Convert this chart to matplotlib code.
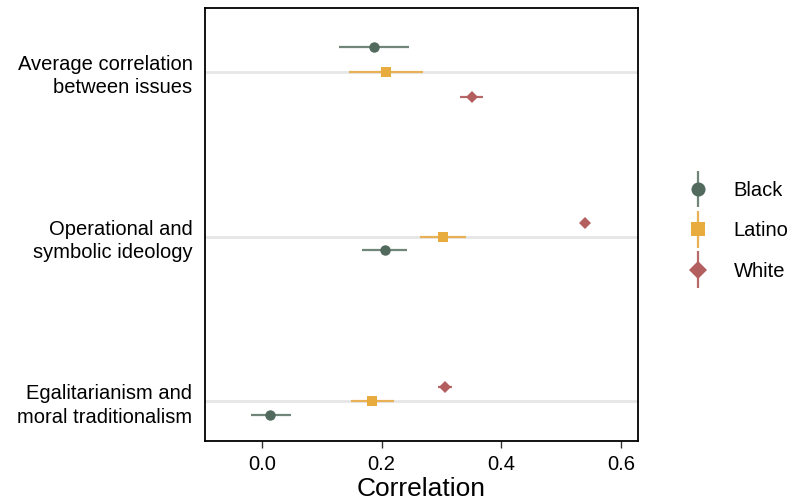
import numpy as np
import matplotlib.pyplot as plt
from matplotlib.legend_handler import HandlerErrorbar
from matplotlib.container import ErrorbarContainer

plt.rcParams["font.family"] = ["Liberation Sans", "DejaVu Sans"]

# measures, top to bottom
measures = ["Average correlation\nbetween issues",
            "Operational and\nsymbolic ideology",
            "Egalitarianism and\nmoral traditionalism"]
groups = ["Black", "Latino", "White"]

black_est = [0.188, 0.205, 0.014]
black_lo = [0.129, 0.167, -0.018]
black_hi = [0.246, 0.243, 0.048]

latino_est = [0.208, 0.302, 0.184]
latino_lo = [0.145, 0.264, 0.149]
latino_hi = [0.269, 0.340, 0.220]

white_est = [0.351, 0.540, 0.306]
white_lo = [0.331, 0.536, 0.294]
white_hi = [0.370, 0.544, 0.318]

colors = {"Black": "#516a5d", "Latino": "#e8ab3e", "White": "#b35f60"}
line_colors = {"Black": "#6f8679", "Latino": "#e9b155", "White": "#b86a6a"}
markers = {"Black": "o", "Latino": "s", "White": "D"}
msizes = {"Black": 7.5, "Latino": 7, "White": 6.5}

# vertical dodge per measure (group order differs between measures)
dodge = {
    "Black": [0.15, -0.085, -0.085],
    "Latino": [0.0, 0.0, 0.0],
    "White": [-0.15, 0.083, 0.083],
}

est = {"Black": black_est, "Latino": latino_est, "White": white_est}
lo = {"Black": black_lo, "Latino": latino_lo, "White": white_lo}
hi = {"Black": black_hi, "Latino": latino_hi, "White": white_hi}

fig = plt.figure(figsize=(7.92, 5.04), dpi=100)
ax = fig.add_axes([205 / 792, 1 - 441 / 504, 433 / 792, 433 / 504])

ypos = np.array([3, 2, 1])
for y in ypos:
    ax.axhline(y, color="#e6e6e6", linewidth=2, zorder=0)

for g in groups:
    e = np.array(est[g])
    yy = ypos + np.array(dodge[g])
    ax.hlines(yy, lo[g], hi[g], color=line_colors[g], linewidth=1.6, zorder=2)
    ax.plot(e, yy, linestyle="none", marker=markers[g], markersize=msizes[g],
            color=colors[g], markeredgewidth=0, zorder=3)

ax.set_xlim(-0.095, 0.628)
ax.set_ylim(0.757, 3.389)
ax.set_xticks([0.0, 0.2, 0.4, 0.6])
ax.set_xticklabels(["0.0", "0.2", "0.4", "0.6"])
ax.set_yticks(ypos)
ax.set_yticklabels(measures, fontsize=14.5, ha="right")
ax.tick_params(axis="x", labelsize=14.5, length=5, width=1, color="#333333", pad=5)
ax.tick_params(axis="y", length=0, pad=9)
for t in ax.get_yticklabels():
    t.set_multialignment("right")
    t.set_linespacing(1.3)
for s in ax.spines.values():
    s.set_linewidth(1.3)
    s.set_color("black")
ax.set_xlabel("Correlation", fontsize=19, labelpad=2)

# legend with vertical error bars
handles = []
for g in groups:
    h = ax.errorbar([np.nan], [np.nan], yerr=[1], color=line_colors[g],
                    marker=markers[g], markersize=msizes[g] * 1.35,
                    markerfacecolor=colors[g], markeredgewidth=0,
                    linestyle="none", elinewidth=1.6, label=g)
    handles.append(h)
fig.legend(handles=handles, labels=groups, loc="center left",
           bbox_to_anchor=(668 / 792, 1 - 231 / 504), frameon=False,
           fontsize=14.5, handlelength=1.2, handletextpad=1.15,
           labelspacing=1.05,
           handler_map={ErrorbarContainer: HandlerErrorbar(yerr_size=0.9)})

plt.savefig("out.png", dpi=100)
